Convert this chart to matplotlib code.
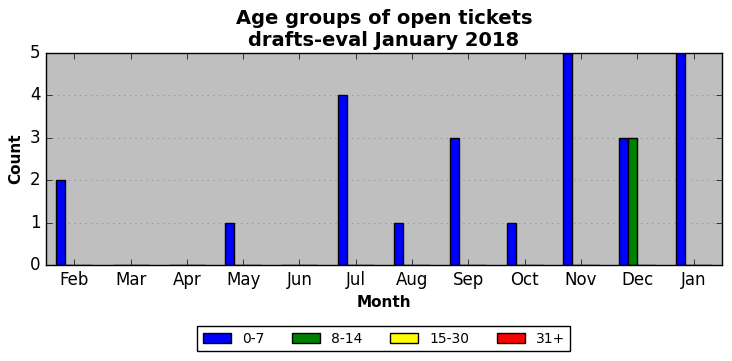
import matplotlib
matplotlib.use('Agg')
import matplotlib.pyplot as plt
import numpy as np

plt.style.use('classic')

months = ['Feb', 'Mar', 'Apr', 'May', 'Jun', 'Jul', 'Aug', 'Sep', 'Oct', 'Nov', 'Dec', 'Jan']
age_0_7 = [2, 0, 0, 1, 0, 4, 1, 3, 1, 5, 3, 5]
age_8_14 = [0, 0, 0, 0, 0, 0, 0, 0, 0, 0, 3, 0]
age_15_30 = [0, 0, 0, 0, 0, 0, 0, 0, 0, 0, 0, 0]
age_31 = [0, 0, 0, 0, 0, 0, 0, 0, 0, 0, 0, 0]

x = np.arange(len(months))
width = 0.16

fig, ax = plt.subplots(figsize=(7.32, 3.61), dpi=100)
fig.patch.set_facecolor('white')
ax.set_facecolor('#bfbfbf')

ax.bar(x, age_0_7, width, color='b', label='0-7', align='edge')
ax.bar(x + width, age_8_14, width, color='g', label='8-14', align='edge')
ax.bar(x + 2 * width, age_15_30, width, color='yellow', label='15-30', align='edge')
ax.bar(x + 3 * width, age_31, width, color='r', label='31+', align='edge')

ax.set_xticks(x + 2 * width)
ax.set_xticklabels(months)
ax.set_xlim(x[0] + 2 * width - 0.5, x[-1] + 2 * width + 0.5)
ax.set_ylim(0, 5)
ax.yaxis.grid(True, linestyle=':', color='#888888')
ax.set_axisbelow(True)

ax.set_title('Age groups of open tickets\ndrafts-eval January 2018', fontsize=14, fontweight='bold')
ax.set_xlabel('Month', fontsize=11, fontweight='bold')
ax.set_ylabel('Count', fontsize=11, fontweight='bold')

ax.legend(loc='upper center', bbox_to_anchor=(0.5, -0.255), ncol=4, fontsize=10, handlelength=2.0)

fig.subplots_adjust(left=0.063, right=0.986, top=0.853, bottom=0.266)
fig.savefig('out.png', dpi=100)
